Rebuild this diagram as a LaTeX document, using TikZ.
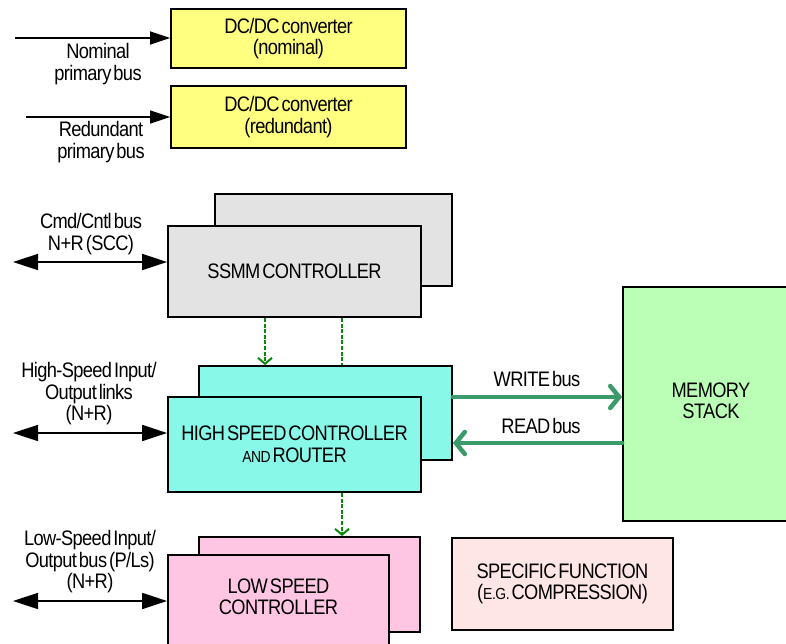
\documentclass[tikz,border=0pt]{standalone}
\usepackage{fontspec}
\setmainfont{Liberation Sans}[FakeStretch=0.87, LetterSpace=-3, WordSpace=0.45]
\usetikzlibrary{arrows.meta}

\definecolor{dcyellow}{HTML}{FFFF80}
\definecolor{ctlgray}{HTML}{E3E3E3}
\definecolor{hscyan}{HTML}{88F8E8}
\definecolor{lspink}{HTML}{FEC6E3}
\definecolor{memgreen}{HTML}{BBFFB6}
\definecolor{sfpink}{HTML}{FFE6E6}
\definecolor{busgreen}{HTML}{3A9A6A}
\definecolor{ctlgreen}{HTML}{0A8A0A}

\tikzset{
  box/.style={draw=black, line width=1.8pt, align=center, inner sep=0pt,
              font=\fontsize{21}{21.5}\selectfont},
  lbl/.style={align=center, inner sep=0pt, font=\fontsize{21}{21.5}\selectfont},
  feed/.style={line width=1.6pt, -{Triangle[length=20pt,width=13pt]}},
  iobus/.style={line width=1.6pt, {Triangle[length=25pt,width=16pt]}-{Triangle[length=25pt,width=16pt]}},
  membus/.style={draw=busgreen, line width=4.5pt, line cap=round,
                 -{Straight Barb[length=9pt,width=22pt,line cap=round]}},
  ctlline/.style={draw=ctlgreen, line width=2pt, dash pattern=on 4pt off 1.6pt},
  ctlarrow/.style={ctlline, -{Straight Barb[length=6pt,width=14pt,line width=2pt]}}
}

\newcommand{\smallcap}[1]{{\fontsize{16}{16}\selectfont #1}}

\begin{document}
\begin{tikzpicture}[x=1pt, y=-1pt]
\useasboundingbox (0,0) rectangle (786,643);
\clip (0,0) rectangle (786,643);

% power converters
\node[box, fill=dcyellow, minimum width=235, minimum height=59] (dcn) at (288.5,38.5)
  {DC/DC converter\\(nominal)};
\node[box, fill=dcyellow, minimum width=235, minimum height=62] (dcr) at (288.5,117)
  {DC/DC converter\\(redundant)};

% controller pairs (redundant unit behind)
\node[box, fill=ctlgray, minimum width=237, minimum height=92] (ssmmB) at (333.5,240) {};
\node[box, fill=ctlgray, minimum width=253, minimum height=91] (ssmm) at (294.5,271.5)
  {SSMM CONTROLLER};

\node[box, fill=hscyan, minimum width=253, minimum height=94] (hsB) at (325.5,413) {};
\node[box, fill=hscyan, minimum width=253, minimum height=95] (hs) at (294.5,444.5)
  {HIGH SPEED CONTROLLER\\\smallcap{AND} ROUTER};

\node[box, fill=lspink, minimum width=221, minimum height=95] (lsB) at (309.5,584.5) {};
\node[box, fill=lspink, minimum width=221, minimum height=95] (ls) at (278.5,602.5) {};
\node[lbl] (lstext) at (278.5,597) {LOW SPEED\\CONTROLLER};

\node[box, fill=sfpink, minimum width=221, minimum height=92] (sf) at (562.5,584)
  {SPECIFIC FUNCTION\\(\smallcap{E.G.} COMPRESSION)};

\node[box, fill=memgreen, minimum width=174, minimum height=234] (mem) at (710,404) {};
\node[lbl] (memtext) at (711,401) {MEMORY\\STACK};

% external buses
\coordinate (pn) at (15,38);
\coordinate (pr) at (26,117);
\coordinate (cmd) at (13,262);
\coordinate (hio) at (13,433);
\coordinate (lio) at (13,601);

\draw[feed] (pn) -- (pn -| dcn.west);
\draw[feed] (pr) -- (pr -| dcr.west);
\draw[iobus] (cmd) -- (cmd -| ssmm.west);
\draw[iobus] (hio) -- (hio -| hs.west);
\draw[iobus] (lio) -- (lio -| ls.west);

\node[lbl] (lpn) at (98,64) {Nominal\\primary bus};
\node[lbl] (lpr) at (101,142) {Redundant\\primary bus};
\node[lbl] (lcmd) at (91,234) {Cmd/Cntl bus\\N+R (SCC)};
\node[lbl] (lhio) at (89,394) {High-Speed Input/\\Output links\\(N+R)};
\node[lbl] (llio) at (90,562) {Low-Speed Input/\\Output bus (P/Ls)\\(N+R)};

% control links
\draw[ctlarrow] (265,0 |- ssmm.south) -- (265,0 |- hsB.north);
\draw[ctlline] (342,0 |- ssmm.south) -- (342,0 |- hsB.north);
\draw[ctlarrow] (342,0 |- hs.south) -- (342,0 |- lsB.north);

% memory buses
\draw[membus] (hsB.east |- 0,397) -- (mem.west |- 0,397);
\draw[membus] (mem.west |- 0,443) -- (hsB.east |- 0,443);
\node[lbl] (lw) at (537,379) {WRITE bus};
\node[lbl] (lr) at (541,426) {READ bus};
\end{tikzpicture}
\end{document}
